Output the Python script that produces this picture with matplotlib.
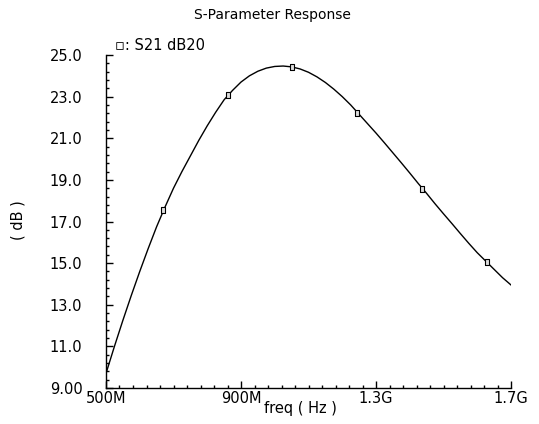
import matplotlib
matplotlib.use('Agg')
import matplotlib.pyplot as plt
from matplotlib.ticker import MultipleLocator, FuncFormatter

# S21 curve (freq in MHz, gain in dB)
freq_mhz = [500, 525, 550, 575, 600, 625, 650, 675, 700, 725, 750, 775,
            800, 825, 850, 875, 900, 925, 950, 975, 1000, 1025, 1050, 1075,
            1100, 1125, 1150, 1175, 1200, 1225, 1250, 1275, 1300, 1325,
            1350, 1375, 1400, 1425, 1450, 1475, 1500, 1525, 1550, 1575,
            1600, 1625, 1650, 1675, 1700]
s21_db = [9.70, 11.0, 12.25, 13.45, 14.6, 15.7, 16.75, 17.7, 18.6, 19.4,
          20.15, 20.9, 21.6, 22.25, 22.85, 23.3, 23.7, 24.0, 24.22, 24.37,
          24.45, 24.47, 24.43, 24.33, 24.17, 23.95, 23.68, 23.36, 23.0,
          22.6, 22.15, 21.7, 21.25, 20.78, 20.3, 19.82, 19.33, 18.83, 18.35,
          17.85, 17.37, 16.9, 16.42, 15.95, 15.5, 15.1, 14.7, 14.3, 13.95]

# marker positions along the trace
marker_mhz = [669, 861, 1051, 1244, 1436, 1629]
marker_db = [17.55, 23.09, 24.43, 22.22, 18.57, 15.06]

title = 'S-Parameter Response'
trace_name = 'S21 dB20'

freq = [f * 1e6 for f in freq_mhz]
mfreq = [f * 1e6 for f in marker_mhz]

plt.rcParams['font.family'] = 'DejaVu Sans'

fig = plt.figure(figsize=(5.39, 4.24), dpi=100)
ax = fig.add_axes([106 / 539, 1 - 388 / 424, 405 / 539, 333 / 424])

ax.plot(freq, s21_db, color='black', lw=1.0)

box = [(-0.55, -1), (0.55, -1), (0.55, 1), (-0.55, 1), (-0.55, -1)]
ax.plot(mfreq, marker_db, ls='none', marker=box, ms=5, mfc='#dddddd',
        mec='black', mew=0.8)

ax.set_xlim(500e6, 1.7e9)
ax.set_ylim(9, 25)

for side in ['top', 'right']:
    ax.spines[side].set_visible(False)
for side in ['left', 'bottom']:
    ax.spines[side].set_linewidth(1.0)

def freq_fmt(x, pos):
    if x >= 1e9:
        return '%.1fG' % (x / 1e9)
    return '%dM' % round(x / 1e6)

def db_fmt(y, pos):
    if abs(y) < 10:
        return '%.2f' % y
    return '%.1f' % y

ax.xaxis.set_major_locator(MultipleLocator(400e6, offset=100e6))
ax.xaxis.set_minor_locator(MultipleLocator(40e6, offset=20e6))
ax.xaxis.set_major_formatter(FuncFormatter(freq_fmt))
ax.yaxis.set_major_locator(MultipleLocator(2, offset=1))
ax.yaxis.set_minor_locator(MultipleLocator(0.4, offset=0.2))
ax.yaxis.set_major_formatter(FuncFormatter(db_fmt))

ax.tick_params(which='both', direction='in', colors='black', labelsize=10.5)
ax.tick_params(which='major', length=5, width=1.0)
ax.tick_params(which='minor', length=2.5, width=1.0)
ax.tick_params(axis='y', which='major', pad=17)
ax.tick_params(axis='x', which='major', pad=2)

fig.text(0.505, 1 - 15 / 424, title, ha='center', va='center', fontsize=10)
fig.text(0.557, 1 - 409 / 424, 'freq ( Hz )', ha='center', va='center',
         fontsize=10.5)
fig.text(18 / 539, 1 - 220 / 424, '( dB )', ha='center', va='center',
         rotation=90, fontsize=10.5)

# legend-like label at the top left
fig.text(115 / 539, 1 - 45 / 424, '\u25ab: ' + trace_name, ha='left',
         va='center', fontsize=10.5)

fig.savefig('out.png', dpi=100)
